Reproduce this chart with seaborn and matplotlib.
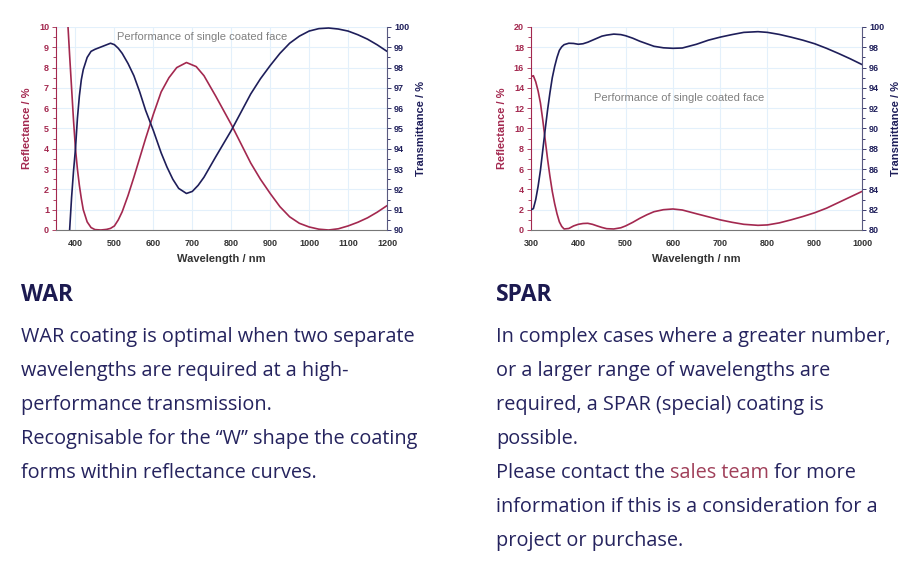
"""Coating performance panels: WAR and SPAR reflectance / transmittance."""

import matplotlib.pyplot as plt
from matplotlib.ticker import MultipleLocator
import seaborn as sns

# WAR coating
war_refl_nm = [380, 385, 390, 395, 400, 405, 410, 415, 420, 430, 440, 450, 465, 480,
               490, 500, 510, 520, 535, 550, 565, 580, 600, 620, 640, 660, 685, 710,
               730, 760, 780, 800, 825, 850, 875, 900, 925, 950, 975, 1000, 1025,
               1050, 1075, 1100, 1125, 1150, 1175, 1200]
war_refl = [10.3, 8.6, 7.0, 5.4, 4.0, 3.0, 2.2, 1.55, 1.0, 0.4, 0.12, 0.02, 0.0, 0.03,
            0.08, 0.2, 0.5, 0.9, 1.7, 2.6, 3.55, 4.5, 5.7, 6.8, 7.5, 8.0, 8.25, 8.05,
            7.6, 6.6, 5.9, 5.2, 4.25, 3.3, 2.5, 1.8, 1.15, 0.65, 0.33, 0.15, 0.04,
            0.0, 0.06, 0.2, 0.38, 0.6, 0.88, 1.2]
war_trans_nm = [385, 390, 395, 400, 405, 410, 415, 420, 430, 440, 450, 470, 490, 500,
                510, 520, 535, 550, 565, 580, 600, 620, 635, 650, 665, 685, 700, 715,
                730, 745, 760, 780, 800, 825, 850, 875, 900, 925, 950, 975, 1000,
                1025, 1050, 1075, 1100, 1125, 1150, 1175, 1200]
war_trans = [90.0, 91.6, 92.9, 94.0, 95.5, 96.6, 97.4, 97.9, 98.5, 98.8, 98.9, 99.05,
             99.2, 99.13, 98.95, 98.7, 98.2, 97.6, 96.8, 95.9, 94.9, 93.8, 93.1, 92.5,
             92.05, 91.8, 91.9, 92.2, 92.6, 93.1, 93.6, 94.25, 94.9, 95.8, 96.7,
             97.45, 98.1, 98.7, 99.2, 99.55, 99.8, 99.92, 99.95, 99.9, 99.8, 99.62,
             99.4, 99.12, 98.8]

# SPAR coating
spar_nm = [300, 305, 310, 315, 320, 325, 330, 335, 340, 345, 350, 355, 360, 365, 370,
           380, 390, 400, 410, 420, 430, 440, 450, 460, 475, 490, 500, 515, 530, 545,
           560, 580, 600, 620, 650, 675, 700, 725, 750, 780, 800, 825, 850, 875, 900,
           925, 950, 975, 1000]
spar_refl = [15.1, 15.2, 14.6, 13.7, 12.5, 10.8, 8.9, 7.0, 5.3, 3.8, 2.6, 1.6, 0.8,
             0.35, 0.1, 0.15, 0.4, 0.56, 0.64, 0.66, 0.56, 0.4, 0.25, 0.13, 0.1, 0.22,
             0.4, 0.75, 1.15, 1.5, 1.8, 2.0, 2.07, 1.97, 1.6, 1.3, 1.0, 0.76, 0.56,
             0.46, 0.5, 0.7, 1.0, 1.33, 1.7, 2.15, 2.7, 3.25, 3.8]
spar_trans = [82.0, 82.1, 83.0, 84.3, 85.9, 87.9, 89.9, 91.8, 93.5, 95.0, 96.1, 97.0,
              97.7, 98.05, 98.26, 98.4, 98.38, 98.3, 98.35, 98.5, 98.7, 98.9, 99.1,
              99.2, 99.3, 99.25, 99.14, 98.9, 98.6, 98.35, 98.1, 97.95, 97.9, 97.93,
              98.3, 98.7, 99.0, 99.25, 99.47, 99.54, 99.47, 99.27, 99.0, 98.7, 98.35,
              97.9, 97.4, 96.87, 96.3]

RED = "#a3284f"
NAVY = "#1e1e5a"
GRID = "#e3f0fb"
TXT = "#25235e"
LINK = "#a0405a"

sns.set_style("white")
plt.rcParams["font.family"] = ["Liberation Sans", "DejaVu Sans"]

fig = plt.figure(figsize=(9.23, 5.85), dpi=100)
W, H = 923, 585


def panel(left_px, xlim, xmajor, ylim_r, ymajor_r, ylim_t, ymajor_t,
          r_nm, r_val, t_nm, t_val, note_xy):
    ax = fig.add_axes([left_px / W, 1 - 230 / H, 331 / W, 203 / H])
    ax2 = ax.twinx()
    sns.lineplot(x=r_nm, y=r_val, ax=ax, color=RED, linewidth=1.2)
    sns.lineplot(x=t_nm, y=t_val, ax=ax2, color=NAVY, linewidth=1.2)
    ax.set_xlim(*xlim)
    ax.set_ylim(*ylim_r)
    ax2.set_ylim(*ylim_t)
    ax.xaxis.set_major_locator(MultipleLocator(xmajor))
    ax.xaxis.set_minor_locator(MultipleLocator(xmajor / 2))
    ax.yaxis.set_major_locator(MultipleLocator(ymajor_r))
    ax.yaxis.set_minor_locator(MultipleLocator(ymajor_r / 2))
    ax2.yaxis.set_major_locator(MultipleLocator(ymajor_t))
    ax2.yaxis.set_minor_locator(MultipleLocator(ymajor_t / 2))
    ax.grid(True, which="major", color=GRID, linewidth=0.8)
    ax.set_axisbelow(True)

    for a in (ax, ax2):
        a.spines["top"].set_visible(False)
    ax.spines["left"].set_color(RED)
    ax.spines["bottom"].set_color("#777777")
    ax.spines["right"].set_visible(False)
    ax2.spines["left"].set_visible(False)
    ax2.spines["bottom"].set_visible(False)
    ax2.spines["right"].set_color("#5a5a80")

    ax.tick_params(axis="x", which="both", direction="out", colors="#555555",
                   labelcolor="#333333", labelsize=6.5, width=0.6)
    ax.tick_params(axis="x", which="major", length=3)
    ax.tick_params(axis="x", which="minor", length=2)
    ax.tick_params(axis="y", which="both", direction="out", colors=RED,
                   labelsize=6.5, width=0.6, pad=2)
    ax.tick_params(axis="y", which="major", length=3)
    ax.tick_params(axis="y", which="minor", length=2)
    ax2.tick_params(axis="y", which="both", direction="out", colors=NAVY,
                    labelsize=6.5, width=0.6, pad=2)
    ax2.tick_params(axis="y", which="major", length=3)
    ax2.tick_params(axis="y", which="minor", length=2)
    for lab in ax.get_xticklabels() + ax.get_yticklabels() + ax2.get_yticklabels():
        lab.set_fontweight("bold")

    ax.set_xlabel("Wavelength / nm", fontsize=8, fontweight="bold", color="#333333",
                  labelpad=4)
    ax.set_ylabel("Reflectance / %", fontsize=8, fontweight="bold", color=RED,
                  labelpad=5)
    ax2.set_ylabel("Transmittance / %", fontsize=8, fontweight="bold", color=NAVY,
                   labelpad=5)
    ax.text(note_xy[0], note_xy[1], "Performance of single coated face",
            transform=ax.transData, fontsize=8, color="#808080",
            ha="center", va="center")
    return ax


panel(56, (350, 1200), 100, (0, 10), 1, (90, 100), 1,
      war_refl_nm, war_refl, war_trans_nm, war_trans, (725, 9.52))
panel(531, (300, 1000), 100, (0, 20), 2, (80, 100), 2,
      spar_nm, spar_refl, spar_nm, spar_trans, (613, 13.0))

# text block below the charts, in pixel coordinates
tx = fig.add_axes([0, 0, 1, 1])
tx.axis("off")
tx.set_xlim(0, W)
tx.set_ylim(H, 0)
FS = 14.3
FAM = ["Open Sans", "DejaVu Sans"]
body = dict(fontsize=FS, color=TXT, family=FAM, va="center")
head = dict(fontsize=16.5, color="#1c1a50", family=FAM, fontweight="bold",
            va="center")

tx.text(21, 295, "WAR", **head)
war_lines = [
    "WAR coating is optimal when two separate",
    "wavelengths are required at a high-",
    "performance transmission.",
    "Recognisable for the \u201cW\u201d shape the coating",
    "forms within reflectance curves.",
]
for i, line in enumerate(war_lines):
    tx.text(21, 337 + 34 * i, line, **body)

tx.text(496, 295, "SPAR", **head)
spar_lines = [
    "In complex cases where a greater number,",
    "or a larger range of wavelengths are",
    "required, a SPAR (special) coating is",
    "possible.",
]
for i, line in enumerate(spar_lines):
    tx.text(496, 337 + 34 * i, line, **body)

t1 = tx.text(496, 337 + 34 * 4, "Please contact the ", **body)
t2 = tx.annotate("sales team", xy=(1, 0), xycoords=t1, va="bottom", ha="left",
                 fontsize=FS, color=LINK, family=FAM)
tx.annotate(" for more", xy=(1, 0), xycoords=t2, va="bottom", ha="left",
            fontsize=FS, color=TXT, family=FAM)
tx.text(496, 337 + 34 * 5, "information if this is a consideration for a", **body)
tx.text(496, 337 + 34 * 6, "project or purchase.", **body)

fig.savefig("out.png", dpi=100, facecolor="white")
